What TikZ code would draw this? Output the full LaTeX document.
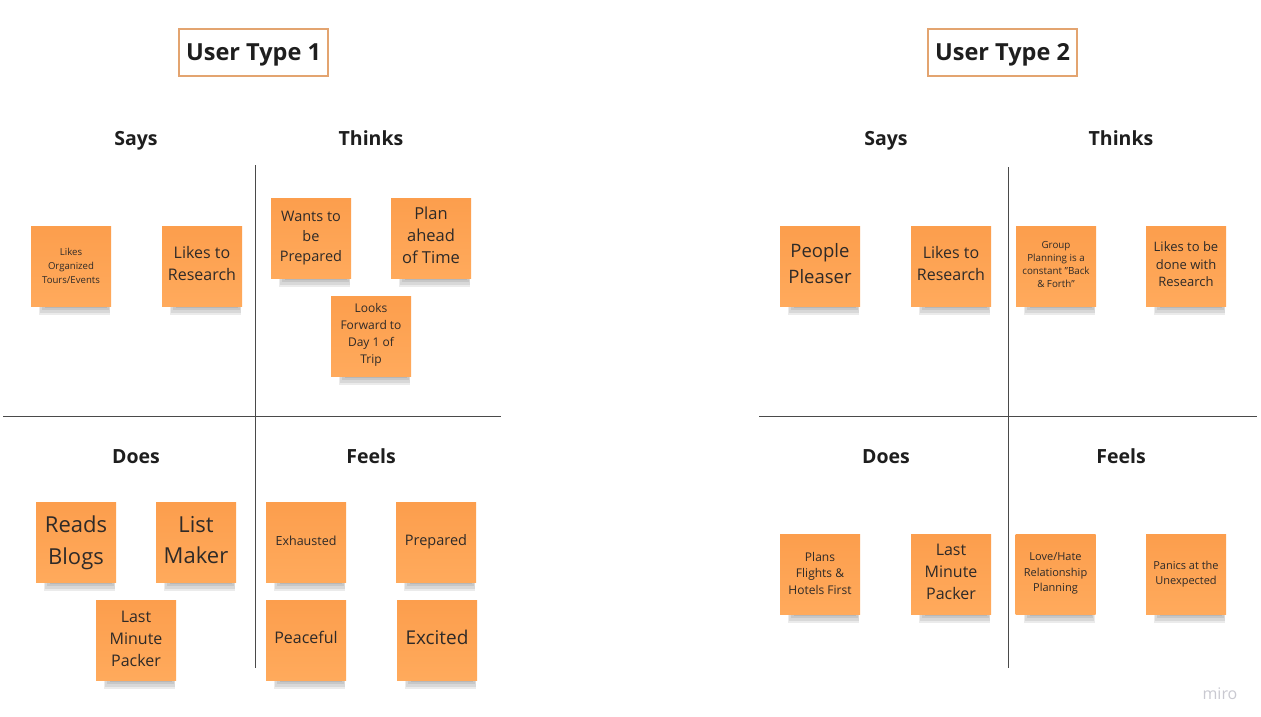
\documentclass[tikz,border=0pt]{standalone}
\usepackage{fontspec}
\setmainfont{Open Sans}
\definecolor{stickA}{HTML}{FC9E4D}
\definecolor{stickB}{HTML}{FFAA5C}
\definecolor{txt}{HTML}{2E2A28}
\definecolor{hdr}{HTML}{1E1E1E}
\definecolor{axis}{HTML}{4A4A4A}
\definecolor{tbox}{HTML}{E3A470}
\definecolor{logo}{HTML}{C9C9D1}
\newcommand{\fsz}[2]{\fontsize{#1pt}{#2pt}\selectfont}
\tikzset{
  stickybox/.style={minimum width=80pt, minimum height=80pt, inner sep=0pt,
    top color=stickA, bottom color=stickB},
  stickytext/.style={align=center, text=txt, inner sep=0pt},
  shadowband/.style={fill=black, opacity=0.08},
  quad/.style={font=\bfseries\fsz{19.5}{24}, text=hdr, anchor=base},
  titlebox/.style={draw=tbox, line width=1.2pt, minimum width=149pt, minimum height=47pt,
    font=\bfseries\fsz{23.5}{28}, text=hdr, inner sep=0pt, text height=18pt, text depth=3pt},
  axisline/.style={draw=axis, line width=1pt}
}
% \stk{name}{x}{y}{font size}{line skip}{text raise}{text}
\newcommand{\stk}[7]{%
  \begin{scope}[shift={(#2,#3)}]
    \fill[shadowband] (-26,38) rectangle (36,41.5);
    \fill[shadowband] (-29,38) rectangle (37.5,44);
    \fill[shadowband] (-31,38) rectangle (38.5,46.5);
    \fill[shadowband] (-32,38) rectangle (39,49);
    \node[stickybox] (#1) at (0,0) {};
    \node[stickytext, font=\fsz{#4}{#5}, yshift=#6pt] (#1-t) at (#1.center) {#7};
  \end{scope}}
\begin{document}
\begin{tikzpicture}[x=1pt,y=-1pt]
\useasboundingbox (0,0) rectangle (1261,717);
\fill[white] (0,0) rectangle (1261,717);

% ---------- User Type 1 ----------
\node[titlebox] (t1) at (253.5,52.5) {User Type 1};
\coordinate (v1a) at (255,165);
\coordinate (v1b) at (255,668);
\coordinate (h1a) at (3,416);
\coordinate (h1b) at (501,416);
\draw[axisline] (v1a) -- (v1b);
\draw[axisline] (h1a) -- (h1b);
\node[quad] (says1) at (136,145) {Says};
\node[quad] (thinks1) at (371,145) {Thinks};
\node[quad] (does1) at (136,463) {Does};
\node[quad] (feels1) at (371,463) {Feels};

\stk{s1a}{71}{266}{9.6}{14}{0.5}{Likes\\Organized\\Tours/Events}
\stk{s1b}{202}{266}{16}{22}{2.5}{Likes to\\Research}
\stk{th1a}{311}{238}{14.5}{20}{-0.5}{Wants to\\be\\Prepared}
\stk{th1b}{431}{238}{16.5}{22}{2.5}{Plan\\ahead\\of Time}
\stk{th1c}{371}{336}{12}{17}{1.5}{Looks\\Forward to\\Day 1 of\\Trip}
\stk{d1a}{76}{542}{22}{32}{-0.5}{Reads\\Blogs}
\stk{d1b}{196}{542}{22}{31}{1.5}{List\\Maker}
\stk{d1c}{136}{640}{16}{22}{1.5}{Last\\Minute\\Packer}
\stk{f1a}{306}{542}{12.5}{16}{1.5}{Exhausted}
\stk{f1b}{436}{542}{14.5}{18}{0.5}{Prepared}
\stk{f1c}{306}{640}{16}{20}{2.5}{Peaceful}
\stk{f1d}{437}{640}{19}{24}{2.5}{Excited}

% ---------- User Type 2 ----------
\node[titlebox] (t2) at (1002.5,52.5) {User Type 2};
\coordinate (v2a) at (1008,167);
\coordinate (v2b) at (1008,668);
\coordinate (h2a) at (759,416);
\coordinate (h2b) at (1257,416);
\draw[axisline] (v2a) -- (v2b);
\draw[axisline] (h2a) -- (h2b);
\node[quad] (says2) at (886,145) {Says};
\node[quad] (thinks2) at (1121,145) {Thinks};
\node[quad] (does2) at (886,463) {Does};
\node[quad] (feels2) at (1121,463) {Feels};

\stk{s2a}{820}{266}{18.5}{26}{2.5}{People\\Pleaser}
\stk{s2b}{951}{266}{16}{21.5}{2.5}{Likes to\\Research}
\stk{th2a}{1056}{266}{9.8}{13}{1.5}{Group\\Planning is a\\constant "Back\\\& Forth"}
\stk{th2b}{1186}{266}{13}{17.5}{1.5}{Likes to be\\done with\\Research}
\stk{d2a}{820}{574}{12}{16.5}{1}{Plans\\Flights \&\\Hotels First}
\stk{d2b}{951}{574}{16}{22}{2.5}{Last\\Minute\\Packer}
\stk{f2a}{1055.5}{574}{11}{15.5}{0.5}{Love/Hate\\Relationship\\Planning}
\stk{f2b}{1186}{574}{11}{15.5}{0}{Panics at the\\Unexpected}

\node[font=\fsz{16}{18}, text=logo] (miro) at (1220,694) {miro};
\end{tikzpicture}
\end{document}
